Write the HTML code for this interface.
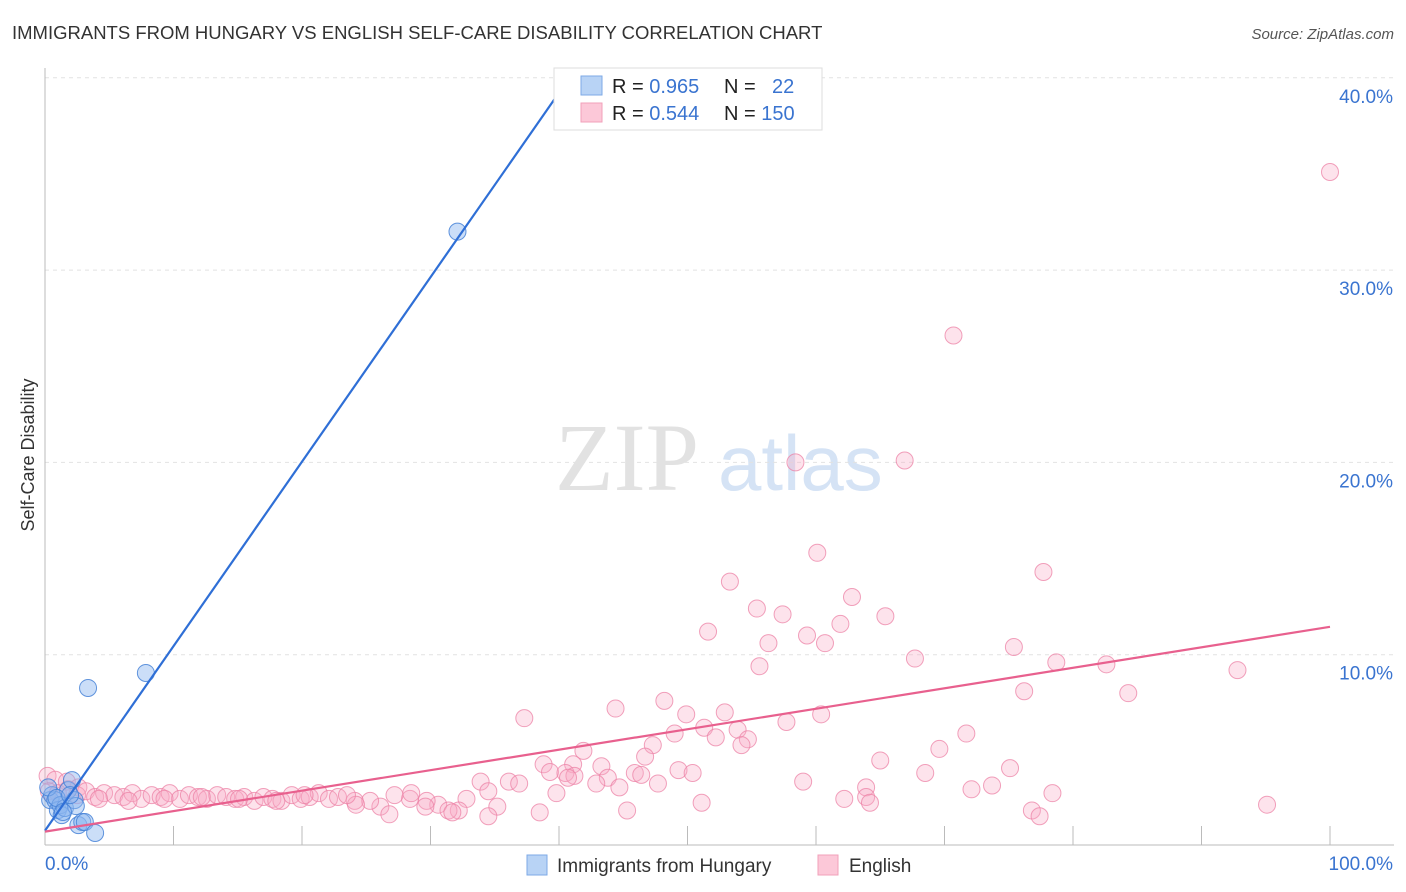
<!DOCTYPE html>
<html><head><meta charset="utf-8"><style>
body{margin:0;background:#fff;font-family:"Liberation Sans",sans-serif}
#wrap{position:relative;width:1406px;height:892px;overflow:hidden}
</style></head><body>
<div id="wrap">
<svg id="svg" width="1406" height="892" xmlns="http://www.w3.org/2000/svg">
<text x="12" y="39" font-size="18.5" fill="#333">IMMIGRANTS FROM HUNGARY VS ENGLISH SELF-CARE DISABILITY CORRELATION CHART</text>
<text x="1394" y="39" font-size="15" fill="#555" font-style="italic" text-anchor="end">Source: ZipAtlas.com</text>
<g>
<text x="555" y="490" font-family="Liberation Serif,serif" font-size="96" fill="#e2e2e2">ZIP</text>
<text x="718" y="490" font-size="78" fill="#d5e3f5">atlas</text>
</g>
<g id="grid"></g>
<g id="axes"></g>
<text transform="translate(34,455) rotate(-90)" font-size="18" fill="#333" text-anchor="middle">Self-Care Disability</text>
<g id="pts"></g>
<g id="lines"></g>
<g>
<rect x="554" y="68" width="268" height="62" fill="#fff" stroke="#ddd"/>
<rect x="581" y="76" width="21" height="19" fill="#b8d3f5" stroke="#7eaae6"/>
<rect x="581" y="103" width="21" height="19" fill="#fcc8d8" stroke="#f2a0ba"/>
<text x="612" y="93" font-size="20" fill="#222">R = <tspan fill="#3a74d0">0.965</tspan></text>
<text x="724" y="93" font-size="20" fill="#222">N = <tspan fill="#3a74d0" x="772">22</tspan></text>
<text x="612" y="120" font-size="20" fill="#222">R = <tspan fill="#3a74d0">0.544</tspan></text>
<text x="724" y="120" font-size="20" fill="#222">N = <tspan fill="#3a74d0">150</tspan></text>
</g>
<g>
<rect x="527" y="855" width="20" height="20" fill="#b8d3f5" stroke="#7eaae6"/>
<text x="557" y="872" font-size="19" fill="#333">Immigrants from Hungary</text>
<rect x="818" y="855" width="20" height="20" fill="#fcc8d8" stroke="#f2a0ba"/>
<text x="849" y="872" font-size="19" fill="#333">English</text>
</g>
</svg>
</div>
<script>
const yTicks=[10,20,30,40];
const yTickLabels=["10.0%","20.0%","30.0%","40.0%"];
const xEndLabels=["0.0%","100.0%"];
const blueX=[0.4,0.55,0.8,1.0,1.2,1.3,1.55,1.8,2.1,2.3,2.4,2.6,2.9,3.1,3.9,3.35,7.85,32.1,0.25,0.9,1.95,1.4];
const blueY=[2.44,2.7,2.44,1.92,2.18,1.66,2.03,2.96,3.48,2.44,2.13,1.14,1.3,1.3,0.73,8.27,9.05,32.0,3.1,2.55,2.7,1.82];
const pinkX=[100,70.7,58.4,66.9,60.1,77.7,53.3,62.8,55.4,57.4,61.9,65.4,51.6,56.3,59.3,60.7,75.4,67.7,55.6,78.7,82.6,92.8,76.2,84.3,48.2,44.4,49.9,52.9,60.4,37.3,57.7,51.3,53.9,49.0,52.2,71.7,54.7,54.2,47.3,41.9,69.6,46.7,65.0,38.8,41.1,43.3,75.1,39.3,40.5,41.2,45.9,49.3,50.4,68.5,40.7,43.8,46.4,33.9,36.1,36.9,42.9,47.7,59.0,63.9,73.7,44.7,72.1,78.4,63.9,62.2,64.2,51.1,95.1,76.8,77.4,39.8,38.5,45.3,35.2,34.5,32.8,32.2,34.5,30.6,31.4,31.7,29.7,29.6,28.4,28.5,27.2,26.1,26.8,25.3,24.1,24.2,
0.2,0.8,1.7,2.6,0.3,1.0,1.8,2.5,3.2,3.9,4.6,5.4,6.1,6.8,7.5,8.3,9.0,9.7,10.5,11.2,11.9,12.6,13.4,14.1,14.8,15.5,16.3,17.0,17.7,18.4,19.2,19.9,20.6,21.3,22.1,22.8,23.5,4.2,6.5,9.3,12.2,15.1,18.0,20.2];
const pinkY=[35.1,26.6,20.0,20.1,15.3,14.3,13.8,13.0,12.4,12.1,11.6,12.0,11.2,10.6,11.0,10.6,10.4,9.8,9.4,9.6,9.5,9.2,8.1,8.0,7.6,7.2,6.9,7.0,6.9,6.7,6.5,6.2,6.1,5.9,5.7,5.9,5.6,5.3,5.3,5.0,5.1,4.7,4.5,4.3,4.3,4.2,4.1,3.9,3.85,3.7,3.85,4.0,3.85,3.85,3.6,3.6,3.75,3.4,3.4,3.3,3.3,3.3,3.4,3.1,3.2,3.1,3.0,2.8,2.6,2.5,2.3,2.3,2.2,1.9,1.6,2.8,1.8,1.9,2.1,2.9,2.5,1.9,1.6,2.2,1.9,1.8,2.4,2.1,2.5,2.8,2.7,2.1,1.7,2.4,2.4,2.2,
3.7,3.5,3.4,3.1,2.9,2.8,3.0,2.7,2.9,2.6,2.8,2.7,2.6,2.8,2.5,2.7,2.6,2.8,2.5,2.7,2.6,2.5,2.7,2.6,2.5,2.6,2.4,2.6,2.5,2.4,2.7,2.5,2.6,2.8,2.5,2.6,2.7,2.5,2.4,2.5,2.6,2.5,2.4,2.7];
const blueFit=[0.0,0.85,40.6,39.8];
const pinkFit=[0.0,0.8,100,11.45];
const X0=45,X1=1330,Y0=847,PX10=19.23;
const sx=v=>X0+(X1-X0)*v/100, sy=v=>Y0-v*PX10;
const NS="http://www.w3.org/2000/svg";
function mk(tag,parent,attrs){const e=document.createElementNS(NS,tag);for(const k in attrs)e.setAttribute(k,attrs[k]);parent.appendChild(e);return e;}
const grid=document.getElementById('grid'),axes=document.getElementById('axes'),pts=document.getElementById('pts'),lines=document.getElementById('lines');
yTicks.forEach((t,i)=>{
 const l=mk('line',grid,{x1:45,x2:1394,y1:sy(t),y2:sy(t),stroke:'#e2e2e2','stroke-dasharray':'4,4'});
 
 
 const tx=mk('text',axes,{x:1393,y:sy(t)+25,'font-size':19,fill:'#3a74d0','text-anchor':'end'});
 tx.textContent=yTickLabels[i];
 
 
});
const ax=mk('line',axes,{x1:45,x2:1394,y1:845,y2:845,stroke:'#bbb'});


const ay=mk('line',axes,{x1:45,x2:45,y1:68,y2:845,stroke:'#bbb'});


for(let k=1;k<=10;k++){
 const t=mk('line',axes,{x1:sx(k*10),x2:sx(k*10),y1:826,y2:845,stroke:'#bbb'});
 
 
}
const l0=mk('text',axes,{x:45,y:870,'font-size':19,fill:'#3a74d0'});l0.textContent=xEndLabels[0];


const l1=mk('text',axes,{x:1393,y:870,'font-size':19,fill:'#3a74d0','text-anchor':'end'});l1.textContent=xEndLabels[1];


pinkX.forEach((x,i)=>{
 const c=mk('circle',pts,{cx:sx(x),cy:sy(pinkY[i]),r:8.5,fill:'rgba(248,170,198,0.33)',stroke:'rgba(236,130,165,0.75)','stroke-width':1});
 
 
});
blueX.forEach((x,i)=>{
 const c=mk('circle',pts,{cx:sx(x),cy:sy(blueY[i]),r:8.5,fill:'rgba(140,182,240,0.45)',stroke:'rgba(70,130,215,0.85)','stroke-width':1});
 
 
});
const bl=mk('line',lines,{x1:sx(blueFit[0]),y1:sy(blueFit[1]),x2:sx(blueFit[2]),y2:sy(blueFit[3]),stroke:'#2f6fd6','stroke-width':2.2});


const pl=mk('line',lines,{x1:sx(pinkFit[0]),y1:sy(pinkFit[1]),x2:sx(pinkFit[2]),y2:sy(pinkFit[3]),stroke:'#e8608e','stroke-width':2.2});


</script>
</body></html>
